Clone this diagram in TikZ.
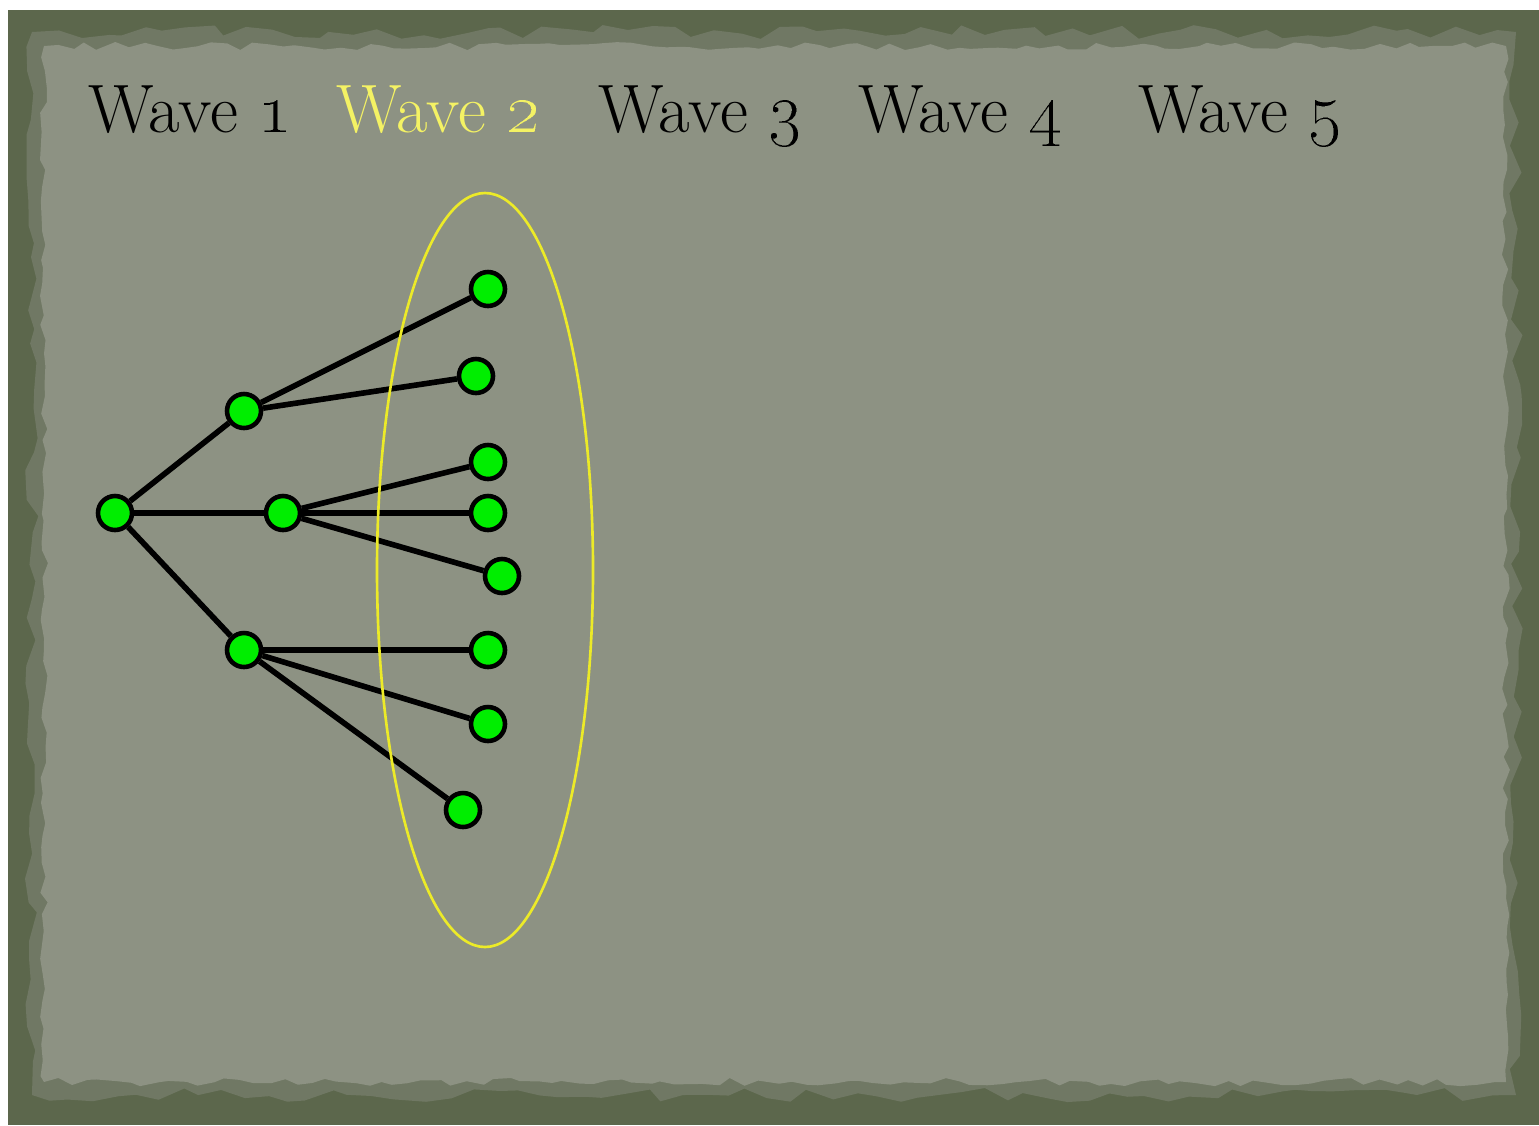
\documentclass[tikz,border=0pt]{standalone}
\usetikzlibrary{decorations.pathmorphing}

\definecolor{borderGreen}{RGB}{92,103,76}
\definecolor{edgeGreen}{RGB}{112,120,100}
\definecolor{paperGray}{RGB}{141,146,131}
\definecolor{nodeGreen}{RGB}{0,238,0}
\definecolor{ringYellow}{RGB}{236,234,40}
\definecolor{labelYellow}{RGB}{244,242,100}

\tikzset{
	wavedot/.style={circle, draw=black, line width=1.3pt, fill=nodeGreen,
		minimum size=0.34cm, inner sep=0pt},
	link/.style={draw=black, line width=1.6pt},
	wavelabel/.style={anchor=base west, inner sep=0pt, text=black,
		font=\fontsize{19.5}{23}\selectfont}
}

\begin{document}
\begin{tikzpicture}
	\useasboundingbox (0,0) rectangle (15.39,-11.25);
	\fill[white] (0,0) rectangle (15.39,-11.25);
	\fill[borderGreen] (0.08,-0.10) rectangle (15.39,-11.25);
	
	% torn paper
	\fill[edgeGreen, decorate, decoration={random steps, segment length=6pt, amplitude=2pt}]
		(0.32,-0.32) rectangle (15.16,-10.95);
	\fill[paperGray, decorate, decoration={random steps, segment length=4pt, amplitude=1.2pt}]
		(0.44,-0.46) rectangle (15.06,-10.82);
	
	% headings
	\node[wavelabel] (wave1) at (0.88,-1.32) {Wave \oldstylenums{1}};
	\node[wavelabel, text=labelYellow] (wave2) at (3.36,-1.32) {Wave \oldstylenums{2}};
	\node[wavelabel] (wave3) at (5.98,-1.32) {Wave \oldstylenums{3}};
	\node[wavelabel] (wave4) at (8.58,-1.32) {Wave \oldstylenums{4}};
	\node[wavelabel] (wave5) at (11.38,-1.32) {Wave \oldstylenums{5}};
	
	% tree
	\node[wavedot] (root) at (1.15,-5.13) {};
	\node[wavedot] (upper) at (2.44,-4.11) {};
	\node[wavedot] (middle) at (2.83,-5.13) {};
	\node[wavedot] (lower) at (2.44,-6.50) {};
	
	\node[wavedot] (leafA) at (4.88,-2.89) {};
	\node[wavedot] (leafB) at (4.76,-3.76) {};
	\node[wavedot] (leafC) at (4.88,-4.62) {};
	\node[wavedot] (leafD) at (4.88,-5.13) {};
	\node[wavedot] (leafE) at (5.02,-5.76) {};
	\node[wavedot] (leafF) at (4.88,-6.50) {};
	\node[wavedot] (leafG) at (4.88,-7.24) {};
	\node[wavedot] (leafH) at (4.63,-8.10) {};
	
	\draw[link] (root) -- (upper);
	\draw[link] (root) -- (middle);
	\draw[link] (root) -- (lower);
	\draw[link] (upper) -- (leafA);
	\draw[link] (upper) -- (leafB);
	\draw[link] (middle) -- (leafC);
	\draw[link] (middle) -- (leafD);
	\draw[link] (middle) -- (leafE);
	\draw[link] (lower) -- (leafF);
	\draw[link] (lower) -- (leafG);
	\draw[link] (lower) -- (leafH);
	
	% wave 2 ring
	\draw[ringYellow, line width=0.75pt] (4.85,-5.70) ellipse (1.08 and 3.77);
\end{tikzpicture}
\end{document}
